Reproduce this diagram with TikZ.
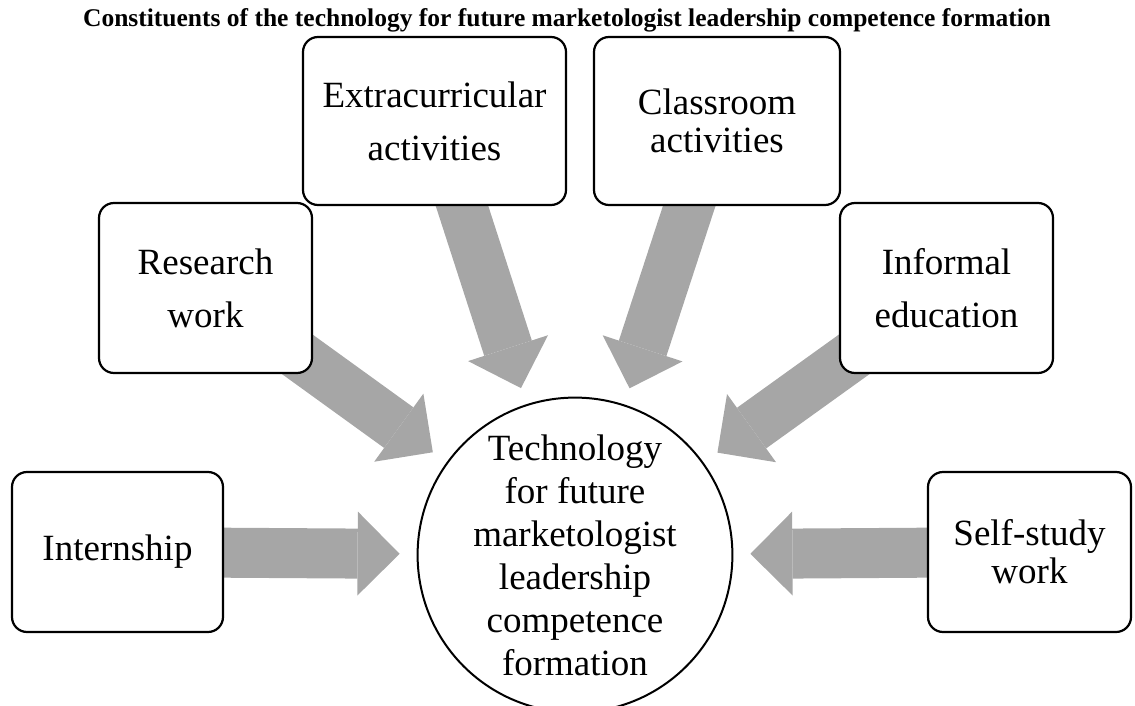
\documentclass[tikz,border=0pt]{standalone}
\usepackage{fontspec}
\setmainfont{Liberation Serif}
\usetikzlibrary{arrows.meta,backgrounds}
\definecolor{mygray}{RGB}{166,166,166}

\begin{document}
\begin{tikzpicture}[x=1pt,y=-1pt]
 \tikzstyle{box}=[draw,rounded corners=15pt,line width=2.2pt,fill=white,align=center,inner sep=0pt,font=\fontsize{37}{53}\selectfont]
 \tikzstyle{tight}=[font=\fontsize{37}{38}\selectfont]
 \tikzstyle{bigarrow}=[draw=mygray,line width=50pt,-{Triangle[length=42pt,width=84pt,line width=0pt]},shorten >=17pt]

   \useasboundingbox (0,0) rectangle (1135,706);

   \node[anchor=base,font=\fontsize{25.5}{30}\selectfont\bfseries] (title) at (567,27) {Constituents of the technology for future marketologist leadership competence formation};

   \node[circle,draw,fill=white,line width=2pt,minimum size=302pt,inner sep=0pt,align=center,font=\fontsize{37}{43}\selectfont] (tech) at (575,555) {Technology\\for future\\marketologist\\leadership\\competence\\formation};

   \node[box,minimum width=263pt,minimum height=168pt] (extra) at (434.5,121) {Extracurricular\\activities};
   \node[box,tight,minimum width=246pt,minimum height=168pt] (class) at (717,121) {Classroom\\activities};
   \node[box,minimum width=213pt,minimum height=170pt] (research) at (205.5,288) {Research\\work};
   \node[box,minimum width=213pt,minimum height=170pt] (informal) at (946.5,288) {Informal\\education};
   \node[box,minimum width=211pt,minimum height=160pt] (intern) at (117.5,552) {Internship};
   \node[box,tight,minimum width=203pt,minimum height=160pt] (selfstudy) at (1029.5,552) {Self-study\\work};

   \begin{scope}[on background layer]
   \draw[bigarrow] (intern.center) -- (tech);
   \draw[bigarrow] (research.center) -- (tech);
   \draw[bigarrow] (extra.center) -- (tech);
   \draw[bigarrow] (class.center) -- (tech);
   \draw[bigarrow] (informal.center) -- (tech);
   \draw[bigarrow] (selfstudy.center) -- (tech);
   \end{scope}

\end{tikzpicture}
\end{document}
